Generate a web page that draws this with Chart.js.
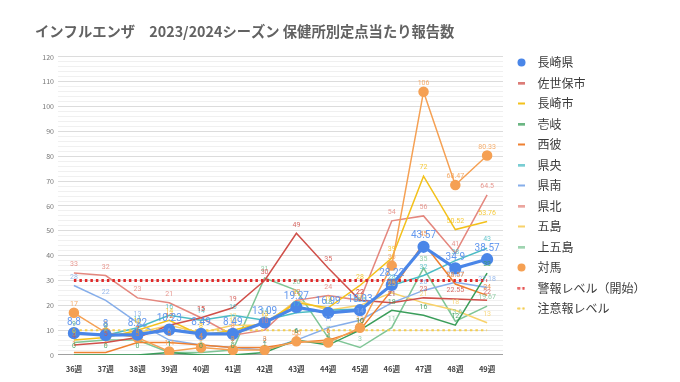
<!DOCTYPE html>
<html><head><meta charset="utf-8">
<script src="https://cdn.jsdelivr.net/npm/chart.js@4.4.1/dist/chart.umd.min.js"></script>
<style>html,body{margin:0;padding:0;background:#fff}</style>
</head><body>
<canvas id="c" width="680" height="382"></canvas>
<script>
const weeks = ['36週','37週','38週','39週','40週','41週','42週','43週','44週','45週','46週','47週','48週','49週'];
const nagasakiKen = [8.8, 8, 8.22, 10.23, 8.49, 8.49, 13.09, 19.27, 16.99, 18.03, 28.22, 43.57, 34.9, 38.57];
const sasebo      = [4, 5, 7, 12, 15, 19, 30, 49, 35, 22, 21, 23, 22.55, 22];
const nagasakiShi = [6, 7, 10, 14, 8, 10, 13, 21, 19, 28, 39, 72, 50.52, 53.76];
const iki         = [0, 0, 0, 1, 0, 0, 1, 6, 4, 10, 18, 16, 12, 33];
const saihi       = [1, 1, 5, 5, 4, 3, 3, 5, 6, 10, 26, 45, 28.57, 24];
const kenou       = [9, 8, 11, 16, 14, 16, 14, 17, 18, 18.5, 28, 32, 38, 43];
const kennan      = [28, 22, 13, 6, 4, 3, 2, 6, 11, 14, 21, 26, 29.27, 27.18];
const kenhoku     = [33, 32, 23, 21, 15, 8, 10, 22, 24, 22, 54, 56, 41, 64.5];
const goto        = [9, 8, 9, 12, 9, 12, 12, 22, 18, 20, 25, 21, 18, 13];
const kamigoto    = [5, 6, 6, 1, 1, 2, 31, 26, 7, 3, 11, 35, 13.6, 19.67];
const tsushima    = [17, 9, 7, 1.4, 3, 2, 2, 5.5, 5, 11, 36, 106, 68.47, 80.33];
const warningLevel = [30, 30, 30, 30, 30, 30, 30, 30, 30, 30, 30, 30, 30, 30];
const cautionLevel = [10, 10, 10, 10, 10, 10, 10, 10, 10, 10, 10, 10, 10, 10];
const yTickLabels = [0, 10, 20, 30, 40, 50, 60, 70, 80, 90, 100, 110, 120];

const FONT = "'Noto Sans CJK JP','Noto Sans',sans-serif";

function mk(label, data, color, opt) {
  return Object.assign({
    label, data, borderColor: color, backgroundColor: color,
    borderWidth: 1.5, pointRadius: 0, pointHoverRadius: 0, tension: 0,
    showLabels: true, labelColor: color, labelSize: 7, legendKind: 'line', order: 5
  }, opt || {});
}

const datasets = [
  mk('長崎県', nagasakiKen, '#4a86e8', {borderWidth: 3.2, pointRadius: 4.5, labelSize: 10, labelColor: '#5b92ee', legendKind: 'circle', order: 0}),
  mk('佐世保市', sasebo, '#d0504a'),
  mk('長崎市', nagasakiShi, '#f3c11b'),
  mk('壱岐', iki, '#3a9d5a'),
  mk('西彼', saihi, '#ef8030'),
  mk('県央', kenou, '#4cbcc4'),
  mk('県南', kennan, '#86aeea'),
  mk('県北', kenhoku, '#e4877e'),
  mk('五島', goto, '#f8d26a'),
  mk('上五島', kamigoto, '#7fc596'),
  mk('対馬', tsushima, '#f5a053', {pointRadius: 4.5, legendKind: 'circle', order: 1}),
  mk('警報レベル（開始）', warningLevel, '#e02a2a', {borderWidth: 3, borderDash: [2.5, 3], showLabels: false, legendKind: 'dots', order: 2}),
  mk('注意報レベル', cautionLevel, '#f3cd4f', {borderWidth: 2, borderDash: [2.5, 3], showLabels: false, legendKind: 'dots', order: 3})
];

function markerCanvas(kind, color) {
  const c = document.createElement('canvas');
  const g = c.getContext('2d');
  if (kind === 'circle') {
    c.width = 9; c.height = 9;
    g.fillStyle = color; g.beginPath(); g.arc(4.5, 4.5, 4, 0, Math.PI * 2); g.fill();
  } else if (kind === 'dots') {
    c.width = 8; c.height = 3;
    g.fillStyle = color;
    g.beginPath(); g.arc(1.5, 1.5, 1.3, 0, Math.PI * 2); g.fill();
    g.beginPath(); g.arc(6, 1.5, 1.3, 0, Math.PI * 2); g.fill();
  } else {
    c.width = 7; c.height = 3;
    g.fillStyle = color; g.fillRect(0, 0.5, 7, 2);
  }
  return c;
}

const labelPlugin = {
  id: 'vlabels',
  afterDatasetsDraw(chart) {
    const ctx = chart.ctx;
    const idx = chart.data.datasets.map((d, i) => i).reverse();
    idx.forEach(i => {
      const ds = chart.data.datasets[i];
      if (!ds.showLabels) return;
      const meta = chart.getDatasetMeta(i);
      ctx.save();
      ctx.font = `${ds.labelSize}px Roboto, 'Noto Sans', sans-serif`;
      ctx.fillStyle = ds.labelColor;
      ctx.globalAlpha = ds.labelSize > 8 ? 0.95 : 0.85;
      ctx.textAlign = 'center';
      ctx.textBaseline = 'bottom';
      const off = ds.labelSize > 8 ? 6 : 5;
      meta.data.forEach((pt, j) => {
        ctx.fillText(String(ds.data[j]), pt.x, pt.y - off);
      });
      ctx.restore();
    });
  }
};

new Chart(document.getElementById('c'), {
  type: 'line',
  data: { labels: weeks, datasets },
  options: {
    responsive: false,
    animation: false,
    layout: { padding: { left: 35, right: 24.5, top: 23, bottom: 6 } },
    plugins: {
      title: {
        display: true,
        text: 'インフルエンザ　2023/2024シーズン 保健所別定点当たり報告数',
        align: 'start',
        color: '#626262',
        font: { family: FONT, size: 14.3, weight: 'bold' },
        padding: { top: 0, bottom: 16.8 }
      },
      legend: {
        position: 'right',
        align: 'start',
        title: { display: true, text: ' ', font: { size: 10 }, padding: { top: 13, bottom: 0 } },
        labels: {
          usePointStyle: true,
          pointStyleWidth: 20,
          padding: 8.5,
          color: '#3a3a3a',
          font: { family: FONT, size: 12 },
          generateLabels(chart) {
            return chart.data.datasets.map((ds, i) => ({
              text: ds.label,
              fillStyle: ds.borderColor,
              strokeStyle: ds.borderColor,
              lineWidth: 0,
              pointStyle: markerCanvas(ds.legendKind, ds.borderColor),
              hidden: false,
              datasetIndex: i,
              fontColor: '#3a3a3a'
            }));
          }
        }
      },
      tooltip: { enabled: false }
    },
    scales: {
      x: {
        offset: true,
        grid: { display: false },
        border: { color: '#a0a0a0' },
        ticks: { color: '#444', font: { family: FONT, size: 7.5, weight: 'bold' }, padding: 2, maxRotation: 0 }
      },
      y: {
        min: 0, max: 120,
        afterFit(axis) { axis.width = 23; },
        border: { display: false },
        grid: {
          drawTicks: false,
          color: c => (c.tick && c.tick.value % 10 === 0) ? '#dcdcdc' : '#f0f0f0',
          lineWidth: 1
        },
        ticks: {
          stepSize: 2,
          autoSkip: false,
          padding: 4,
          color: '#777',
          font: { family: FONT, size: 7 },
          callback: v => yTickLabels.includes(v) ? String(v) : ''
        }
      }
    }
  },
  plugins: [labelPlugin]
});
</script>
</body></html>
